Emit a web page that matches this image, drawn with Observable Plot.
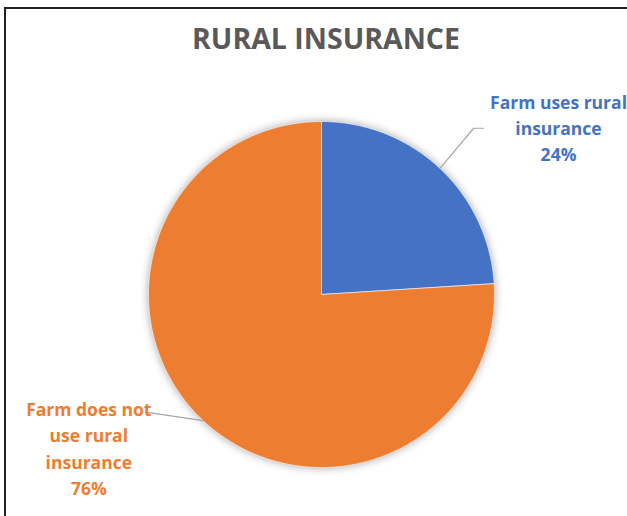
<!DOCTYPE html>
<html>
<head>
<meta charset="utf-8">
<script src="https://cdn.jsdelivr.net/npm/d3@7"></script>
<script src="https://cdn.jsdelivr.net/npm/@observablehq/plot@0.6"></script>
<style>
  html, body { margin: 0; padding: 0; background: #fff; }
  #wrap { position: relative; width: 627px; height: 516px; overflow: hidden; }
  #border { position: absolute; left: 4px; top: 7px; width: 700px; height: 600px;
            border-left: 2px solid #222; border-top: 2px solid #222; }
  #chart { position: absolute; left: 0; top: 0; }
</style>
</head>
<body>
<div id="wrap"><div id="border"></div><div id="chart"></div></div>
<script>
const title = "RURAL INSURANCE";
const categories = ["Farm uses rural insurance", "Farm does not use rural insurance"];
const values = [24, 76];
const colors = ["#4472C4", "#ED7D31"];
const labelLines = [["Farm uses rural", "insurance", "24%"], ["Farm does not", "use rural", "insurance", "76%"]];
// label anchor (in pie units) and leader elbow
const labelPos = [{x: 1.37, y: 1.145}, {x: -1.345, y: -0.63}];
const elbow = [[{x: 0.88, y: 0.961}, {x: 0.936, y: 0.961}], [{x: -1.017, y: -0.68}]];

const pie = d3.pie().sort(null).startAngle(0).endAngle(2 * Math.PI)(values);
const slicePts = [];
pie.forEach((a, i) => {
  const n = Math.max(8, Math.ceil((a.endAngle - a.startAngle) * 120));
  slicePts.push({cat: categories[i], x: 0, y: 0});
  for (let k = 0; k <= n; k++) {
    const t = a.startAngle + (a.endAngle - a.startAngle) * k / n;
    slicePts.push({cat: categories[i], x: Math.sin(t), y: Math.cos(t)});
  }
  slicePts.push({cat: categories[i], x: 0, y: 0});
});
const leaders = [];
pie.forEach((a, i) => {
  const m = (a.startAngle + a.endAngle) / 2;
  leaders.push({cat: categories[i], x: Math.sin(m), y: Math.cos(m)});
  elbow[i].forEach(p => leaders.push({cat: categories[i], ...p}));
});
const labels = [];
labelLines.forEach((lines, i) => {
  lines.forEach((t, j) => labels.push({cat: categories[i], text: t, x: labelPos[i].x, y: labelPos[i].y, line: j}));
});

const plot = Plot.plot({
  width: 627, height: 516,
  margin: 0,
  x: {domain: [-1, 1], range: [148, 494], axis: null},
  y: {domain: [-1, 1], range: [467, 121], axis: null},
  color: {domain: categories, range: colors},
  style: {fontFamily: "'Open Sans', sans-serif", background: "transparent"},
  marks: [
    Plot.line(slicePts, {x: "x", y: "y", z: "cat", fill: "cat", stroke: "white", strokeWidth: 0.6, curve: "linear"}),
    Plot.line(leaders, {x: "x", y: "y", z: "cat", stroke: "#A6A6A6", strokeWidth: 1.2}),
    Plot.text(labels, {x: "x", y: "y", text: "text", fill: "cat", fontWeight: "bold", fontSize: 17.5,
      textAnchor: "middle", lineAnchor: "top"}),
    Plot.text([title], {frameAnchor: "top", text: d => d, dy: 28, fontSize: 28.5, fontWeight: "bold", fill: "#595959", dx: 12})
  ]
});
document.getElementById("chart").append(plot);
const textGroups = d3.select(plot).selectAll("g[aria-label=text]");
d3.select(textGroups.nodes()[0]).selectAll("text").attr("transform", function(d, i) {
  const l = labels[i];
  const cur = d3.select(this).attr("transform") || "";
  return cur + ` translate(0,${l.line * 26.3})`;
});
d3.select(d3.select(plot).selectAll("g[aria-label=line]").nodes()[0])
  .style("filter", "drop-shadow(0px 0px 4px rgba(0,0,0,0.35))");
</script>
</body>
</html>
